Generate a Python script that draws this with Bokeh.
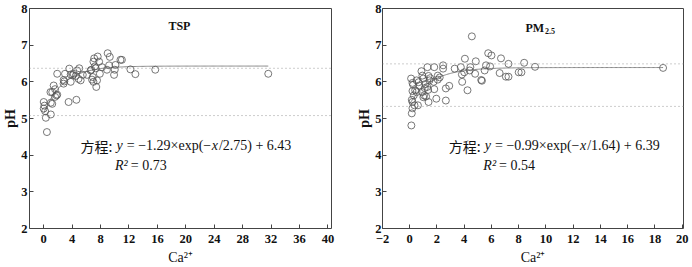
from bokeh.plotting import figure
from bokeh.layouts import row
from bokeh.models import Span, Label, FixedTicker
from bokeh.embed import file_html
from bokeh.resources import INLINE
import numpy as np

# ---------------- data ----------------
tsp_ca = [0.0, 0.0, 0.1, 0.2, 0.3, 0.45, 1.0, 1.2, 1.0, 0.95, 1.2, 1.4, 1.6, 1.8, 1.6, 1.9,
          1.9, 2.8, 2.9, 2.8, 3.0, 3.5, 3.6, 3.8, 3.8, 4.1, 4.2, 4.5, 4.6, 4.7, 4.9, 5.0,
          5.2, 5.5, 6.1, 6.6, 6.7, 6.8, 6.9, 7.0, 7.0, 7.1, 7.3, 7.4, 7.5, 7.6, 7.8, 7.9,
          8.2, 7.2, 8.9, 9.0, 9.3, 9.2, 9.9, 10.1, 10.0, 10.8, 11.0, 12.2, 12.9, 15.7, 31.6]
tsp_ph = [5.45, 5.27, 5.35, 5.20, 5.02, 4.63, 5.11, 5.40, 5.43, 5.72, 5.72, 5.90, 5.80, 5.63, 5.59, 5.65,
          6.22, 5.95, 6.01, 6.05, 6.22, 5.45, 6.36, 6.20, 6.00, 6.18, 6.22, 6.16, 5.51, 6.31, 6.08, 6.37,
          6.04, 6.19, 6.19, 6.31, 6.33, 6.06, 6.13, 6.55, 6.00, 6.64, 6.37, 5.86, 6.04, 6.69, 6.55, 6.22,
          6.40, 6.42, 6.33, 6.78, 6.68, 6.45, 6.19, 6.46, 6.33, 6.60, 6.60, 6.34, 6.21, 6.33, 6.22]

pm_ca = [0.12, 0.15, 0.2, 0.2, 0.15, 0.2, 0.2, 0.1, 0.35, 0.3, 0.4, 0.25, 0.5, 0.5, 0.6, 0.7,
         0.65, 0.86, 0.93, 0.9, 1.0, 1.05, 1.1, 1.15, 1.0, 1.2, 1.28, 1.3, 1.38, 1.35, 1.38, 1.45,
         1.5, 1.8, 1.8, 1.75, 1.95, 2.06, 2.06, 2.2, 2.45, 2.45, 2.65, 2.65, 2.9, 3.3, 3.75, 3.83,
         3.85, 4.05, 4.0, 4.24, 4.4, 4.45, 4.56, 4.8, 4.85, 5.25, 5.3, 5.5, 5.6, 5.76, 6.0, 5.9,
         6.6, 6.7, 7.06, 7.25, 7.25, 8.0, 8.2, 8.4, 9.2, 18.6]
pm_ph = [4.81, 5.14, 5.28, 5.45, 5.51, 5.75, 5.97, 6.09, 5.36, 5.63, 5.77, 5.92, 6.04, 5.72, 5.36, 5.90,
         5.99, 6.29, 6.17, 5.72, 5.58, 5.63, 5.83, 5.94, 6.09, 5.60, 5.86, 6.40, 6.16, 5.78, 5.45, 6.04,
         6.10, 6.40, 5.80, 6.00, 5.54, 6.17, 6.06, 6.12, 6.45, 6.36, 5.82, 5.49, 5.89, 6.36, 6.40, 6.20,
         6.00, 6.63, 6.26, 5.77, 6.31, 6.40, 7.24, 6.22, 6.56, 6.05, 6.03, 6.31, 6.45, 6.78, 6.72, 6.42,
         6.24, 6.64, 6.14, 6.14, 6.49, 6.26, 6.26, 6.52, 6.41, 6.38]

# fitted equations printed on the chart: y = a*exp(-x/t) + c
tsp_fit = dict(a=-1.29, t=2.75, c=6.43, xmax=31.6)
pm_fit = dict(a=-0.99, t=1.64, c=6.39, xmax=18.6)
tsp_refs = [6.37, 5.08]
pm_refs = [6.49, 5.33]

y_ticks = [2, 3, 4, 5, 6, 7, 8]
tsp_xticks = [0, 4, 8, 12, 16, 20, 24, 28, 32, 36, 40]
pm_xticks = [-2, 0, 2, 4, 6, 8, 10, 12, 14, 16, 18, 20]

SERIF = "'Liberation Serif'"
CJK = "'Noto Sans CJK SC'"

# approx Times metrics (1/1000 em)
W = {'0': 500, '1': 500, '2': 500, '3': 500, '4': 500, '5': 500, '6': 500, '7': 500, '8': 500, '9': 500,
     '.': 250, ' ': 250, '=': 564, '−': 564, '×': 564, '+': 564, '(': 333, ')': 333, '/': 278,
     'e': 444, 'x': 500, 'p': 500}
WI = {'y': 444, 'x': 444, 'R': 611, '²': 300}


def tw(s, size, italic=False):
    tab = WI if italic else W
    return sum(tab.get(ch, 500) for ch in s) * size / 1000.0


def make_fig(xr, xticks, border_left, border_right, ylab_standoff, ytick_standoff):
    p = figure(width=346, height=267, x_range=xr, y_range=(2, 8),
               output_backend="svg", toolbar_location=None,
               min_border_left=border_left, min_border_right=border_right,
               min_border_top=8, min_border_bottom=39)
    p.background_fill_color = "white"
    p.border_fill_color = "white"
    p.outline_line_color = "#444444"
    p.outline_line_width = 1
    p.xgrid.visible = False
    p.ygrid.visible = False
    for ax in (p.xaxis[0], p.yaxis[0]):
        ax.axis_line_color = None
        ax.major_tick_in = 4
        ax.major_tick_out = 0
        ax.minor_tick_in = 0
        ax.minor_tick_out = 0
        ax.major_tick_line_color = "#444444"
        ax.major_label_text_font = SERIF
        ax.major_label_text_font_style = "bold"
        ax.major_label_text_font_size = "12.5px"
        ax.major_label_text_color = "#111111"
        ax.axis_label_text_font = SERIF
        ax.axis_label_text_color = "#111111"
    p.xaxis[0].ticker = FixedTicker(ticks=xticks)
    p.xaxis[0].major_label_overrides = {t: ("−" + str(-t)) for t in xticks if t < 0}
    p.xaxis[0].major_label_standoff = 6
    p.xaxis[0].axis_label = "Ca²⁺"
    p.xaxis[0].axis_label_text_font_style = "normal"
    p.xaxis[0].axis_label_text_font_size = "14px"
    p.xaxis[0].axis_label_standoff = 4
    p.yaxis[0].ticker = FixedTicker(ticks=y_ticks)
    p.yaxis[0].major_label_standoff = ytick_standoff
    p.yaxis[0].axis_label = "pH"
    p.yaxis[0].axis_label_text_font_style = "bold"
    p.yaxis[0].axis_label_text_font_size = "14px"
    p.yaxis[0].axis_label_standoff = ylab_standoff
    return p


def draw(p, ca, ph, fit, refs):
    for r in refs:
        p.add_layout(Span(location=r, dimension="width", line_color="#9a9a9a",
                          line_dash="1 3", line_width=1))
    xs = np.linspace(0, fit["xmax"], 200)
    ys = fit["a"] * np.exp(-xs / fit["t"]) + fit["c"]
    p.line(xs, ys, line_color="#7a7a7a", line_width=0.9)
    p.scatter(ca, ph, marker="circle", size=7, fill_color=None,
              line_color="#555555", line_width=0.8)


def equation(p, x, y1, y2, a, t, c, r2):
    fs = 14
    segs = [("方程:", CJK, "normal", 0.0)]
    off = 36.0
    parts = [("y", True, 4.0), ("= −%.2f×exp(−" % abs(a), False, 0.5), ("x", True, 1.0),
             ("/%.2f) + %.2f" % (t, c), False, 0.0)]
    for s, it, adj in parts:
        segs.append((s, SERIF, "italic" if it else "normal", off))
        off += tw(s, fs, it) + adj
    for s, font, style, o in segs:
        p.add_layout(Label(x=x, y=y1, x_offset=o, text=s, text_font=font,
                           text_font_style=style, text_font_size="%dpx" % fs,
                           text_color="#111111", text_baseline="alphabetic",
                           text_align="left"))
    # R² line
    p.add_layout(Label(x=x, y=y2, x_offset=34.5, text="R²", text_font=SERIF,
                       text_font_style="italic", text_font_size="%dpx" % fs,
                       text_color="#111111", text_baseline="alphabetic"))
    p.add_layout(Label(x=x, y=y2, x_offset=34.5 + tw("R²", fs, True) + 3,
                       text="= %.2f" % r2, text_font=SERIF,
                       text_font_style="normal", text_font_size="%dpx" % fs,
                       text_color="#111111", text_baseline="alphabetic"))


# ---------------- left: TSP ----------------
p1 = make_fig((-2, 40.5), tsp_xticks, 29, 15, 0, 2)
draw(p1, tsp_ca, tsp_ph, tsp_fit, tsp_refs)
p1.add_layout(Label(x=19.1, y=7.52, text="TSP", text_font=SERIF, text_font_style="bold",
                    text_font_size="12px", text_color="#111111",
                    text_align="center", text_baseline="middle"))
equation(p1, 5.18, 4.26, 3.71, tsp_fit["a"], tsp_fit["t"], tsp_fit["c"], 0.73)

# ---------------- right: PM2.5 ----------------
p2 = make_fig((-2, 20.1), pm_xticks, 36, 9, 0, 1)
draw(p2, pm_ca, pm_ph, pm_fit, pm_refs)
p2.add_layout(Label(x=8.5, y=7.46, text="PM", text_font=SERIF, text_font_style="bold",
                    text_font_size="12px", text_color="#111111",
                    text_align="left", text_baseline="middle"))
p2.add_layout(Label(x=8.5, y=7.40, x_offset=19.5, text="2.5", text_font=SERIF,
                    text_font_style="bold", text_font_size="8px", text_color="#111111",
                    text_align="left", text_baseline="middle"))
equation(p2, 2.87, 4.26, 3.71, pm_fit["a"], pm_fit["t"], pm_fit["c"], 0.54)

layout = row(p1, p2)
open("out.html", "w").write(file_html(layout, INLINE))
